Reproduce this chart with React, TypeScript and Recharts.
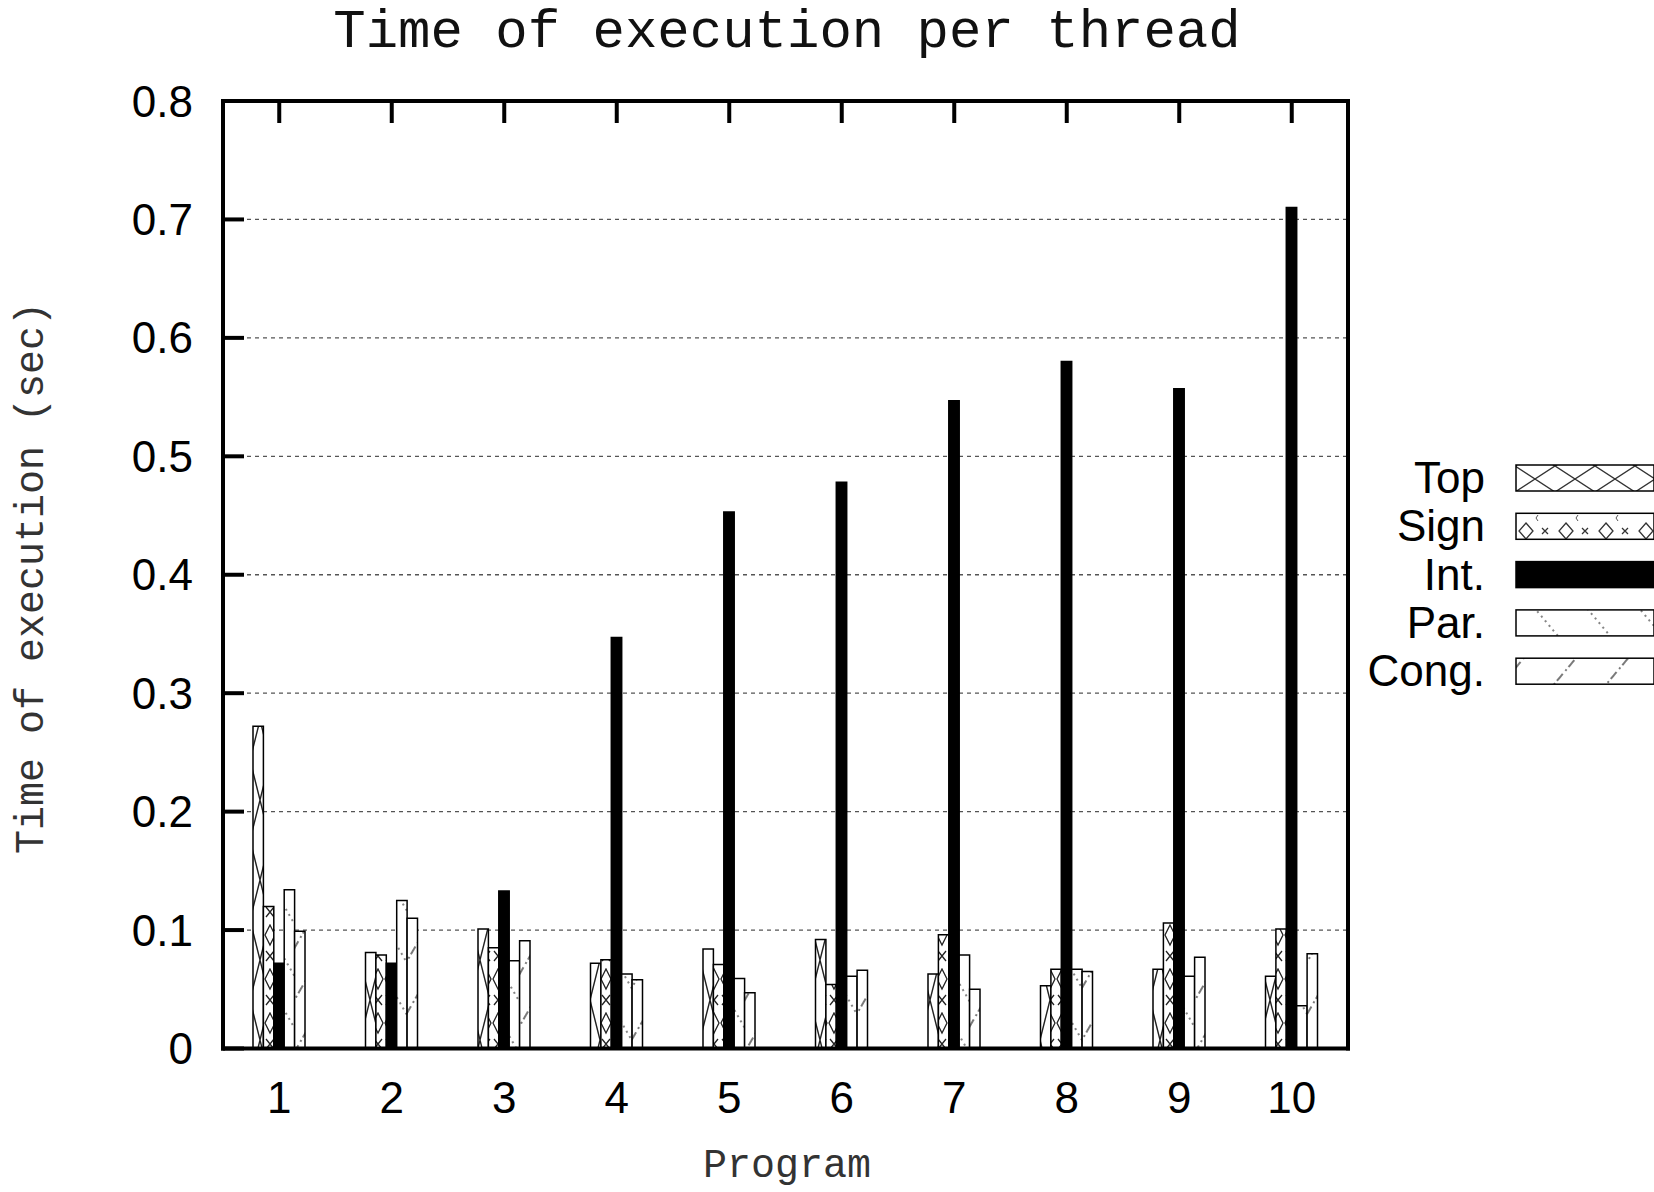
import React from 'react';
import { BarChart, Bar, XAxis, YAxis, CartesianGrid, Legend } from 'recharts';

// ---- data ----
const programs = ['1', '2', '3', '4', '5', '6', '7', '8', '9', '10'];
const topValues = [0.272, 0.081, 0.101, 0.072, 0.084, 0.092, 0.063, 0.053, 0.067, 0.061];
const signValues = [0.12, 0.079, 0.085, 0.075, 0.071, 0.054, 0.096, 0.067, 0.106, 0.101];
const intValues = [0.072, 0.072, 0.133, 0.347, 0.453, 0.478, 0.547, 0.58, 0.557, 0.71];
const parValues = [0.134, 0.125, 0.074, 0.063, 0.059, 0.061, 0.079, 0.067, 0.061, 0.036];
const congValues = [0.099, 0.11, 0.091, 0.058, 0.047, 0.066, 0.05, 0.065, 0.077, 0.08];
const yTicks = [0, 0.1, 0.2, 0.3, 0.4, 0.5, 0.6, 0.7, 0.8];
const seriesKeys = ['top', 'sign', 'int', 'par', 'cong'];
const seriesNames = ['Top', 'Sign', 'Int.', 'Par.', 'Cong.'];

const data = programs.map((p, i) => ({
  program: p,
  top: topValues[i],
  sign: signValues[i],
  int: intValues[i],
  par: parValues[i],
  cong: congValues[i],
}));

// ---- layout ----
const W = 1654;
const H = 1192;
const PL = 223;
const PR = 1348;
const PT = 101;
const PB = 1048.5;
const SANS = '"Liberation Sans", Arial, Helvetica, sans-serif';
const MONO = '"Liberation Mono", "Courier New", monospace';

const fills: Record<string, string> = {
  top: 'url(#pTop)',
  sign: 'url(#pSign)',
  int: '#000',
  par: 'url(#pPar)',
  cong: 'url(#pCong)',
};
const legendFills: Record<string, string> = {
  top: 'url(#lgTop)',
  sign: 'url(#lgSign)',
  int: '#000',
  par: 'url(#lgPar)',
  cong: 'url(#lgCong)',
};

const fmt = (v: number) => (v === 0 ? '0' : String(v));

const LeftTick = (props: any) => {
  const { y, payload } = props;
  return (
    <g>
      <line x1={PL} x2={PL + 21} y1={y} y2={y} stroke="#000" strokeWidth={4} />
      <text x={PL - 30} y={y + 15.5} textAnchor="end" fontFamily={SANS} fontSize={44} fill="#000">
        {fmt(payload.value)}
      </text>
    </g>
  );
};

const RightTick = (props: any) => {
  const { y } = props;
  return <line x1={PR - 21} x2={PR} y1={y} y2={y} stroke="#000" strokeWidth={4} />;
};

const TopTick = (props: any) => {
  const { x } = props;
  return <line x1={x} x2={x} y1={PT} y2={PT + 22} stroke="#000" strokeWidth={4} />;
};

const BottomTick = (props: any) => {
  const { x, payload } = props;
  return (
    <text x={x} y={1113} textAnchor="middle" fontFamily={SANS} fontSize={44} fill="#000">
      {payload.value}
    </text>
  );
};

const renderLegend = (props: any) => {
  const raw = (props && props.payload) || [];
  const payload = [...raw].sort(
    (a: any, b: any) => seriesKeys.indexOf(String(a.dataKey)) - seriesKeys.indexOf(String(b.dataKey))
  );
  const ox = 1340;
  const oy = 440;
  return (
    <svg width={314} height={260} style={{ display: 'block', overflow: 'visible' }}>
      <defs>
        <pattern id="lgTop" patternUnits="userSpaceOnUse" x={175} y={0} width={40} height={26}>
          <rect width={40} height={26} fill="#fff" />
          <path d="M0,0 L40,26 M40,0 L0,26" stroke="#333" strokeWidth={1.4} fill="none" />
        </pattern>
        <pattern id="lgSign" patternUnits="userSpaceOnUse" x={175} y={0} width={40} height={26}>
          <rect width={40} height={26} fill="#fff" />
          <path d="M11,5 L18,13 L11,21 L4,13 Z" stroke="#333" strokeWidth={1.3} fill="none" />
          <path d="M27,10 L33,16 M33,10 L27,16" stroke="#333" strokeWidth={1.3} fill="none" />
          <path d="M21,0 L23,3 M21,26 L23,23" stroke="#555" strokeWidth={1} fill="none" />
        </pattern>
        <pattern id="lgPar" patternUnits="userSpaceOnUse" width={40} height={12} patternTransform="rotate(-40)">
          <rect width={40} height={12} fill="#fff" />
          <line x1={1} x2={1} y1={0} y2={12} stroke="#444" strokeWidth={1.3} strokeDasharray="2 4" />
        </pattern>
        <pattern id="lgCong" patternUnits="userSpaceOnUse" width={40} height={18} patternTransform="rotate(40)">
          <rect width={40} height={18} fill="#fff" />
          <line x1={1} x2={1} y1={0} y2={18} stroke="#333" strokeWidth={1.3} strokeDasharray="9 3 2 4" />
        </pattern>
      </defs>
      {payload.map((entry: any, i: number) => {
        const key = String(entry.dataKey);
        const cy = 478 - oy + 48.3 * i;
        return (
          <g key={key}>
            <text x={1485 - ox} y={cy + 15} textAnchor="end" fontFamily={SANS} fontSize={44} fill="#000">
              {entry.value}
            </text>
            <rect
              x={1516 - ox}
              y={cy - 13}
              width={138}
              height={26}
              fill={legendFills[key]}
              stroke="#000"
              strokeWidth={1.5}
            />
          </g>
        );
      })}
    </svg>
  );
};

export default function App() {
  return (
    <div style={{ position: 'absolute', left: 0, top: 0, width: W, height: H, background: '#fff' }}>
      <BarChart
        width={W}
        height={H}
        data={data}
        margin={{ top: PT - 1, left: PL - 100, right: W - PR - 1, bottom: H - PB - 60 }}
        barGap={0}
        barSize={10.4}
      >
        <defs>
          <pattern id="pTop" patternUnits="userSpaceOnUse" width={20} height={80}>
            <rect width={20} height={80} fill="#fff" />
            <path d="M0,0 L20,80 M20,0 L0,80" stroke="#222" strokeWidth={1.4} fill="none" />
          </pattern>
          <pattern id="pSign" patternUnits="userSpaceOnUse" width={12} height={44}>
            <rect width={12} height={44} fill="#fff" />
            <path d="M6,1 L11,11 L6,21 L1,11 Z" stroke="#222" strokeWidth={1.3} fill="none" />
            <path d="M2,27 L10,37 M10,27 L2,37" stroke="#222" strokeWidth={1.3} fill="none" />
          </pattern>
          <pattern id="pPar" patternUnits="userSpaceOnUse" width={26} height={12} patternTransform="rotate(-30)">
            <rect width={26} height={12} fill="#fff" />
            <line x1={1} x2={1} y1={0} y2={12} stroke="#444" strokeWidth={1.3} strokeDasharray="2 4" />
          </pattern>
          <pattern id="pCong" patternUnits="userSpaceOnUse" width={26} height={18} patternTransform="rotate(30)">
            <rect width={26} height={18} fill="#fff" />
            <line x1={1} x2={1} y1={0} y2={18} stroke="#333" strokeWidth={1.3} strokeDasharray="9 3 2 4" />
          </pattern>
        </defs>
        <CartesianGrid vertical={false} stroke="#555" strokeWidth={1.3} strokeDasharray="4 4" />
        <XAxis
          dataKey="program"
          height={60}
          tickSize={0}
          tickLine={false}
          tick={<BottomTick />}
          axisLine={{ stroke: '#000', strokeWidth: 4, strokeLinecap: 'square' }}
          interval={0}
        />
        <XAxis
          xAxisId="top"
          dataKey="program"
          orientation="top"
          height={1}
          tickSize={0}
          tickLine={false}
          tick={<TopTick />}
          axisLine={{ stroke: '#000', strokeWidth: 4, strokeLinecap: 'square' }}
          interval={0}
        />
        <YAxis
          width={100}
          domain={[0, 0.8]}
          ticks={yTicks}
          tickSize={0}
          tickLine={false}
          tick={<LeftTick />}
          axisLine={{ stroke: '#000', strokeWidth: 4, strokeLinecap: 'square' }}
          interval={0}
        />
        <YAxis
          yAxisId="right"
          orientation="right"
          width={1}
          domain={[0, 0.8]}
          ticks={yTicks}
          tickSize={0}
          tickLine={false}
          tick={<RightTick />}
          axisLine={{ stroke: '#000', strokeWidth: 4, strokeLinecap: 'square' }}
          interval={0}
        />
        {seriesKeys.map((k, i) => (
          <Bar
            key={k}
            dataKey={k}
            name={seriesNames[i]}
            fill={fills[k]}
            stroke="#000"
            strokeWidth={1.5}
            isAnimationActive={false}
          />
        ))}
        <Legend
          layout="vertical"
          align="center"
          verticalAlign="middle"
          content={renderLegend}
          wrapperStyle={{ position: 'absolute', left: 1340, top: 440, width: 314, height: 260 }}
        />
      </BarChart>
      <svg
        width={W}
        height={H}
        style={{ position: 'absolute', left: 0, top: 0, pointerEvents: 'none' }}
      >
        <text x={787} y={47} textAnchor="middle" fontFamily={MONO} fontSize={54} fill="#111">
          Time of execution per thread
        </text>
        <text
          x={43}
          y={578}
          textAnchor="middle"
          fontFamily={MONO}
          fontSize={40}
          fill="#333"
          transform="rotate(-90 43 578)"
        >
          Time of execution (sec)
        </text>
        <text x={787} y={1177} textAnchor="middle" fontFamily={MONO} fontSize={40} fill="#333">
          Program
        </text>
      </svg>
    </div>
  );
}
